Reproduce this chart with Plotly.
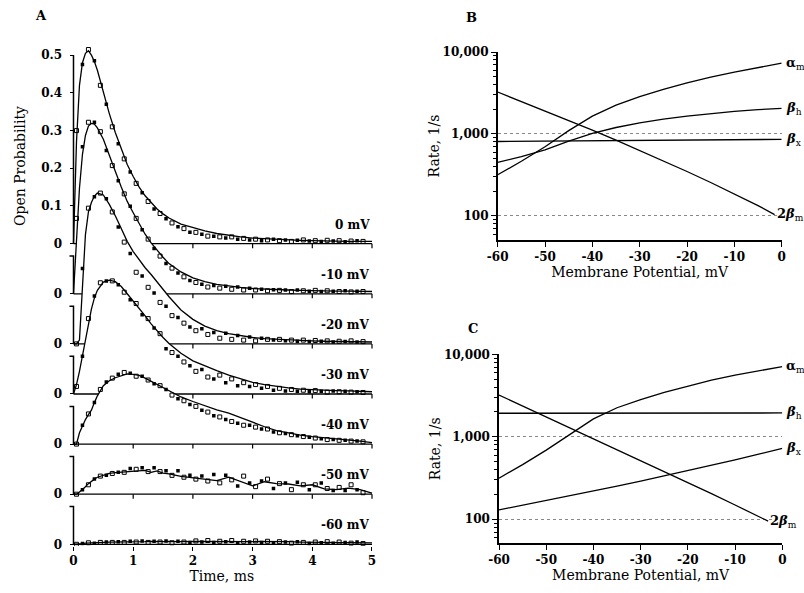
import math
import plotly.graph_objects as go

W, H = 804, 593

# ---------------- Panel A data (open probability vs time) ----------------
T = [0, 0.05, 0.1, 0.15, 0.2, 0.25, 0.3, 0.35, 0.4, 0.5, 0.6, 0.7, 0.8, 0.9, 1.0,
     1.1, 1.2, 1.3, 1.4, 1.5, 1.6, 1.8, 2.0, 2.2, 2.4, 2.6, 2.8, 3.0, 3.2, 3.4,
     3.6, 3.8, 4.0, 4.2, 4.4, 4.6, 4.8, 5.0]

FIT_0 = [0, 0.27, 0.42, 0.48, 0.505, 0.512, 0.50, 0.483, 0.46, 0.40, 0.345, 0.295, 0.25, 0.21, 0.178,
         0.15, 0.127, 0.108, 0.092, 0.079, 0.068, 0.052, 0.042, 0.034, 0.027, 0.022, 0.018, 0.015, 0.013, 0.011,
         0.010, 0.009, 0.008, 0.007, 0.007, 0.006, 0.006, 0.006]
FIT_10 = [0, 0.14, 0.28, 0.37, 0.42, 0.445, 0.452, 0.45, 0.44, 0.41, 0.37, 0.325, 0.283, 0.245, 0.215,
          0.185, 0.158, 0.135, 0.115, 0.097, 0.080, 0.058, 0.042, 0.032, 0.025, 0.020, 0.017, 0.014, 0.012, 0.011,
          0.010, 0.009, 0.008, 0.008, 0.007, 0.007, 0.006, 0.006]
FIT_20 = [0, 0.0, 0.01, 0.17, 0.29, 0.35, 0.375, 0.392, 0.40, 0.395, 0.37, 0.34, 0.305, 0.272, 0.245,
          0.222, 0.202, 0.184, 0.164, 0.145, 0.125, 0.09, 0.065, 0.047, 0.035, 0.027, 0.021, 0.017, 0.014, 0.012,
          0.010, 0.009, 0.008, 0.007, 0.007, 0.006, 0.006, 0.005]
FIT_30 = [0, 0.025, 0.06, 0.10, 0.15, 0.19, 0.225, 0.255, 0.275, 0.297, 0.302, 0.298, 0.285, 0.266, 0.247,
          0.228, 0.207, 0.186, 0.167, 0.15, 0.134, 0.108, 0.088, 0.074, 0.062, 0.05, 0.04, 0.031, 0.025, 0.02,
          0.016, 0.013, 0.011, 0.01, 0.009, 0.008, 0.007, 0.006]
FIT_40 = [0, 0.0, 0.03, 0.05, 0.065, 0.078, 0.09, 0.11, 0.128, 0.155, 0.168, 0.176, 0.181, 0.186, 0.185,
          0.182, 0.175, 0.167, 0.158, 0.15, 0.141, 0.125, 0.113, 0.101, 0.091, 0.082, 0.071, 0.058, 0.046, 0.036,
          0.030, 0.024, 0.02, 0.017, 0.014, 0.012, 0.008, 0.004]
FIT_50 = [0, 0.0, 0.006, 0.012, 0.02, 0.028, 0.035, 0.04, 0.045, 0.051, 0.055, 0.057, 0.058, 0.059, 0.06,
          0.061, 0.063, 0.058, 0.062, 0.056, 0.054, 0.047, 0.043, 0.039, 0.036, 0.045, 0.034, 0.022, 0.033, 0.028,
          0.027, 0.022, 0.025, 0.014, 0.012, 0.016, 0.012, 0.003]
FIT_60 = [0, 0.0, 0.001, 0.002, 0.003, 0.003, 0.004, 0.004, 0.005, 0.005, 0.006, 0.006, 0.006, 0.007, 0.007,
          0.007, 0.007, 0.008, 0.007, 0.007, 0.008, 0.007, 0.008, 0.008, 0.009, 0.009, 0.008, 0.008, 0.007, 0.007,
          0.007, 0.006, 0.006, 0.006, 0.005, 0.005, 0.005, 0.004]

PT = [0.05, 0.15, 0.25, 0.35, 0.45, 0.55, 0.65, 0.75, 0.85, 0.95,
      1.05, 1.15, 1.25, 1.35, 1.45, 1.55, 1.65, 1.75, 1.85, 1.95,
      2.05, 2.15, 2.25, 2.35, 2.45, 2.55, 2.65, 2.75, 2.85, 2.95,
      3.05, 3.15, 3.25, 3.35, 3.45, 3.55, 3.65, 3.75, 3.85, 3.95,
      4.05, 4.15, 4.25, 4.35, 4.45, 4.55, 4.65, 4.75, 4.85]

PTS_0 = [0.30, 0.475, 0.515, 0.485, 0.42, 0.37, 0.31, 0.265, 0.225, 0.19,
         0.16, 0.135, 0.112, 0.092, 0.08, 0.066, 0.055, 0.045, 0.04, 0.03,
         0.03, 0.025, 0.02, 0.02, 0.018, 0.015, 0.018, 0.012, 0.014, 0.01,
         0.012, 0.008, 0.01, 0.012, 0.008, 0.01, 0.006, 0.009, 0.01, 0.007,
         0.008, 0.006, 0.009, 0.007, 0.008, 0.005, 0.007, 0.008, 0.006]
PTS_10 = [0.20, 0.39, 0.455, 0.455, 0.43, 0.38, 0.34, 0.30, 0.265, 0.232,
          0.2, 0.17, 0.145, 0.12, 0.1, 0.08, 0.068, 0.055, 0.045, 0.035,
          0.03, 0.025, 0.018, 0.022, 0.015, 0.02, 0.012, 0.018, 0.01, 0.015,
          0.01, 0.012, 0.008, 0.011, 0.009, 0.01, 0.006, 0.01, 0.008, 0.007,
          0.009, 0.006, 0.008, 0.007, 0.006, 0.008, 0.005, 0.007, 0.006]
PTS_20 = [0.0, 0.2, 0.36, 0.39, 0.40, 0.385, 0.35, 0.31, 0.27, 0.24,
          0.19, 0.18, 0.15, 0.135, 0.11, 0.1, 0.075, 0.07, 0.055, 0.045,
          0.035, 0.04, 0.025, 0.03, 0.015, 0.028, 0.012, 0.022, 0.01, 0.018,
          0.008, 0.015, 0.012, 0.01, 0.012, 0.008, 0.01, 0.007, 0.01, 0.006,
          0.009, 0.007, 0.008, 0.005, 0.007, 0.006, 0.008, 0.005, 0.006]
PTS_30 = [0.02, 0.1, 0.2, 0.26, 0.295, 0.30, 0.30, 0.29, 0.27, 0.25,
          0.24, 0.21, 0.2, 0.175, 0.16, 0.12, 0.11, 0.1, 0.085, 0.075,
          0.06, 0.065, 0.045, 0.04, 0.05, 0.03, 0.04, 0.022, 0.03, 0.02,
          0.025, 0.015, 0.02, 0.01, 0.015, 0.008, 0.012, 0.007, 0.01, 0.006,
          0.009, 0.007, 0.005, 0.008, 0.006, 0.007, 0.005, 0.006, 0.004]
PTS_40 = [0.0, 0.05, 0.08, 0.11, 0.145, 0.165, 0.175, 0.185, 0.19, 0.188,
          0.18, 0.18, 0.17, 0.16, 0.155, 0.145, 0.13, 0.12, 0.115, 0.105,
          0.1, 0.09, 0.085, 0.075, 0.072, 0.065, 0.06, 0.055, 0.05, 0.05,
          0.045, 0.04, 0.04, 0.032, 0.03, 0.028, 0.025, 0.022, 0.02, 0.018,
          0.016, 0.014, 0.012, 0.012, 0.01, 0.01, 0.008, 0.008, 0.006]
PTS_50 = [0.0, 0.012, 0.025, 0.04, 0.048, 0.05, 0.055, 0.058, 0.058, 0.068,
          0.066, 0.07, 0.06, 0.07, 0.06, 0.062, 0.05, 0.062, 0.045, 0.05,
          0.04, 0.048, 0.035, 0.052, 0.03, 0.05, 0.038, 0.022, 0.048, 0.03,
          0.02, 0.035, 0.04, 0.015, 0.028, 0.03, 0.012, 0.032, 0.025, 0.012,
          0.025, 0.03, 0.015, 0.01, 0.018, 0.01, 0.025, 0.012, 0.004]
PTS_60 = [0.0, 0.002, 0.004, 0.003, 0.005, 0.006, 0.005, 0.007, 0.005, 0.008,
          0.006, 0.009, 0.005, 0.008, 0.006, 0.009, 0.004, 0.008, 0.006, 0.005,
          0.009, 0.006, 0.01, 0.005, 0.008, 0.007, 0.01, 0.004, 0.008, 0.006,
          0.009, 0.005, 0.008, 0.004, 0.007, 0.006, 0.003, 0.007, 0.005, 0.002,
          0.006, 0.004, 0.007, 0.003, 0.006, 0.005, 0.003, 0.006, 0.002]

VOLT_LABELS = ["0 mV", "-10 mV", "-20 mV", "-30 mV", "-40 mV", "-50 mV", "-60 mV"]
FITS = [FIT_0, FIT_10, FIT_20, FIT_30, FIT_40, FIT_50, FIT_60]
PTS = [PTS_0, PTS_10, PTS_20, PTS_30, PTS_40, PTS_50, PTS_60]
TIME_TICKS = [0, 1, 2, 3, 4, 5]
TOP_TICKS = [0, 0.1, 0.2, 0.3, 0.4, 0.5]
TOP_TICK_LABELS = ["0", "0.1", "0.2", "0.3", "0.4", "0.5"]

# ---------------- Panels B and C data (rates vs membrane potential) ----------------
V = [-60, -55, -50, -45, -40, -35, -30, -25, -20, -15, -10, -5, 0]
B_ALPHA_M = [318, 465, 700, 1100, 1650, 2250, 2850, 3500, 4200, 4950, 5700, 6500, 7300]
B_BETA_H = [450, 530, 640, 820, 1020, 1200, 1370, 1520, 1650, 1780, 1890, 1980, 2050]
B_BETA_X = [810, 815, 819, 823, 827, 832, 836, 840, 844, 848, 852, 856, 860]
B_2BETA_M_V = [-60, -55, -50, -45, -40, -35, -30, -25, -20, -15, -10, -5, -1.5]
B_2BETA_M = [3250, 2495, 1914, 1462, 1112, 841, 632, 472, 349, 256, 186, 134, 104]

C_ALPHA_M = [315, 460, 690, 1080, 1650, 2250, 2830, 3450, 4130, 4850, 5600, 6350, 7100]
C_BETA_H = [1930, 1930, 1932, 1933, 1935, 1935, 1937, 1938, 1940, 1940, 1942, 1943, 1945]
C_BETA_X = [130, 148, 168, 192, 220, 252, 290, 335, 390, 450, 525, 615, 725]
C_2BETA_M_V = [-60, -55, -50, -45, -40, -35, -30, -25, -20, -15, -10, -5, -3]
C_2BETA_M = [3210, 2370, 1750, 1290, 953, 703, 519, 382, 280, 205, 149, 109, 95]

V_TICKS = [-60, -50, -40, -30, -20, -10, 0]
RATE_TICKS = [100, 1000, 10000]
RATE_TICK_LABELS = ["100", "1,000", "10,000"]
RATE_MINOR_TICKS = [60, 70, 80, 90, 200, 300, 400, 500, 600, 700, 800, 900,
                    2000, 3000, 4000, 5000, 6000, 7000, 8000, 9000]

# ---------------- layout helpers (pixel geometry) ----------------
def fx(px):
    return px / W

def fy(py):
    return 1 - py / H

SERIF = "DejaVu Serif"
INK = "black"

# panel A geometry: t=0 at x=73.5 px, t=5 at 372 px; baseline of lowest record at 544.3 px
A_X0, A_X5 = 73.5, 372.0
A_PPX = (A_X5 - A_X0) / 5.0
A_XR = [-0.09, 5.06]
A_YBASE, A_PPY = 544.3, 377.0
A_YR = [-0.004, 1.34]
STEP = 0.1329            # vertical offset between stacked records
A_TICK_T = 4.0 / A_PPX   # 4 px tick length, in ms

ax_dom = [fx(A_X0 + A_XR[0] * A_PPX), fx(A_X0 + A_XR[1] * A_PPX)]
ay_dom = [fy(A_YBASE - A_YR[0] * A_PPY), fy(A_YBASE - A_YR[1] * A_PPY)]
ay_pos = ax_dom[0] + (0 - A_XR[0]) / (A_XR[1] - A_XR[0]) * (ax_dom[1] - ax_dom[0])

fig = go.Figure()

def add_a(**kw):
    fig.add_trace(go.Scatter(showlegend=False, xaxis="x", yaxis="y", **kw))

ytickvals, yticktext = [], []
for k in range(7):
    off = (6 - k) * STEP
    fit_y = [v + off for v in FITS[k]]
    # white mask under this record's curve: hides the parts of the record above it
    add_a(x=T + [T[-1], T[0]], y=fit_y + [off, off], mode="lines", fill="toself",
          fillcolor="white", line=dict(width=0, color="white"), hoverinfo="skip")
    # vertical sub-axis (with small top tick for the lower records)
    if k == 0:
        add_a(x=[0, 0], y=[off, off + 0.5], mode="lines",
              line=dict(color=INK, width=1.5), hoverinfo="skip")
    else:
        add_a(x=[-A_TICK_T, 0, 0], y=[off + 0.1, off + 0.1, off], mode="lines",
              line=dict(color=INK, width=1.5), hoverinfo="skip")
    # baseline (zero line of this record)
    add_a(x=[0, 5], y=[off, off], mode="lines",
          line=dict(color=INK, width=1.3), hoverinfo="skip")
    # tick marks on this baseline
    if k < 6:
        tx, ty = [], []
        for t in TIME_TICKS[1:]:
            tx += [t, t, None]
            ty += [off, off - 0.012, None]
        add_a(x=tx, y=ty, mode="lines", line=dict(color=INK, width=1.2), hoverinfo="skip")
    # fitted curve
    add_a(x=T, y=fit_y, mode="lines", line=dict(color=INK, width=1.3))
    # data points: open and filled squares
    add_a(x=PT[0::2], y=[v + off for v in PTS[k][0::2]], mode="markers",
          marker=dict(symbol="square-open", size=4, color=INK, line=dict(width=1)))
    add_a(x=PT[1::2], y=[v + off for v in PTS[k][1::2]], mode="markers",
          marker=dict(symbol="square", size=3.5, color=INK))
    if k == 0:
        ytickvals += [off + v for v in TOP_TICKS]
        yticktext += TOP_TICK_LABELS
    else:
        ytickvals += [off]
        yticktext += ["0"]
    fig.add_annotation(x=5.0, y=off + 0.05, xref="x", yref="y", text=VOLT_LABELS[k],
                       showarrow=False, xanchor="right", yanchor="middle",
                       font=dict(family=SERIF, size=12, color=INK, weight="bold"))

# ---------------- panels B and C ----------------
def rate_lines(xa, ya, am, bh, bx, v2, b2m):
    for xs, ys in [(V, am), (V, bh), (V, bx), (v2, b2m)]:
        fig.add_trace(go.Scatter(x=xs, y=ys, mode="lines", line=dict(color=INK, width=1.3),
                                 showlegend=False, xaxis=xa, yaxis=ya))
    lab_font = dict(family=SERIF, size=13, color=INK)
    for txt, xv, yv, dx in [("<b>α</b><sub>m</sub>", V[-1], am[-1], 2),
                            ("<b><i>β</i></b><sub>h</sub>", V[-1], bh[-1], 2),
                            ("<b><i>β</i></b><sub>x</sub>", V[-1], bx[-1], 2),
                            ("<b>2<i>β</i></b><sub>m</sub>", v2[-1], b2m[-1], 0)]:
        fig.add_annotation(x=xv, y=math.log10(yv), xref=xa, yref=ya, text=txt,
                           showarrow=False, xanchor="left", yanchor="middle", xshift=dx,
                           font=lab_font)

rate_lines("x2", "y2", B_ALPHA_M, B_BETA_H, B_BETA_X, B_2BETA_M_V, B_2BETA_M)
rate_lines("x3", "y3", C_ALPHA_M, C_BETA_H, C_BETA_X, C_2BETA_M_V, C_2BETA_M)

tick_font = dict(family=SERIF, size=12, color=INK, weight="bold")
title_font = dict(family=SERIF, size=14, color=INK)

def v_axis(dom, anchor):
    return dict(domain=dom, anchor=anchor, range=[-60, 0], showline=True, linecolor=INK,
                linewidth=1.5, ticks="outside", ticklen=5, tickwidth=1.3, tickcolor=INK,
                tickvals=V_TICKS, ticktext=[str(v) for v in V_TICKS], tickfont=tick_font,
                showgrid=False, zeroline=False, automargin=False,
                title=dict(text="Membrane Potential, mV", font=title_font, standoff=3))

def r_axis(dom, anchor, rng):
    return dict(domain=dom, anchor=anchor, type="log", range=rng, showline=True, linecolor=INK,
                linewidth=1.5, ticks="outside", ticklen=5, tickwidth=1.3, tickcolor=INK,
                tickvals=RATE_TICKS, ticktext=RATE_TICK_LABELS, tickfont=tick_font,
                showgrid=True, gridcolor="#888888", griddash="dot", gridwidth=1,
                minor=dict(ticks="outside", ticklen=3, tickwidth=1, tickcolor=INK,
                           tickvals=RATE_MINOR_TICKS, showgrid=False),
                zeroline=False, automargin=False,
                title=dict(text="Rate, 1/s", font=title_font, standoff=0))

fig.update_layout(
    width=W, height=H, margin=dict(l=0, r=0, t=0, b=0),
    paper_bgcolor="white", plot_bgcolor="white",
    font=dict(family=SERIF, color=INK),
    xaxis=dict(domain=ax_dom, anchor="y", range=A_XR, showline=False, ticks="outside",
               ticklen=4, tickwidth=1.3, tickcolor=INK, tickvals=TIME_TICKS,
               ticktext=[str(t) for t in TIME_TICKS], tickfont=tick_font,
               showgrid=False, zeroline=False, automargin=False,
               title=dict(text="Time, ms", font=title_font, standoff=3)),
    yaxis=dict(domain=ay_dom, anchor="free", position=ay_pos, range=A_YR, showline=False,
               ticks="outside", ticklen=4, tickwidth=1.3, tickcolor=INK,
               tickvals=ytickvals, ticktext=yticktext, ticklabelstandoff=5,
               tickfont=dict(family=SERIF, size=12, color=INK, weight="bold"),
               showgrid=False, zeroline=False, automargin=False),
    xaxis2=v_axis([fx(497.7), fx(781.7)], "y2"),
    yaxis2=r_axis([fy(240.0), fy(52.0)], "x2", [1.707, 4.0]),
    xaxis3=v_axis([fx(499.0), fx(782.3)], "y3"),
    yaxis3=r_axis([fy(543.3), fy(354.3)], "x3", [1.709, 4.0]),
)

# axis title and panel letters for A
fig.add_annotation(x=fx(20), y=fy(166), xref="paper", yref="paper", text="Open Probability",
                   textangle=-90, showarrow=False, xanchor="center", yanchor="middle",
                   font=title_font)
for letter, px, py in [("A", 41, 15), ("B", 471, 17), ("C", 473, 328)]:
    fig.add_annotation(x=fx(px), y=fy(py), xref="paper", yref="paper", text=letter,
                       showarrow=False, xanchor="center", yanchor="middle",
                       font=dict(family=SERIF, size=13, color=INK, weight="bold"))

fig.write_html("out.html", config={"displayModeBar": False},
               post_script="document.body.style.margin='0';document.body.style.padding='0';"
                           "document.body.style.overflow='hidden';")
